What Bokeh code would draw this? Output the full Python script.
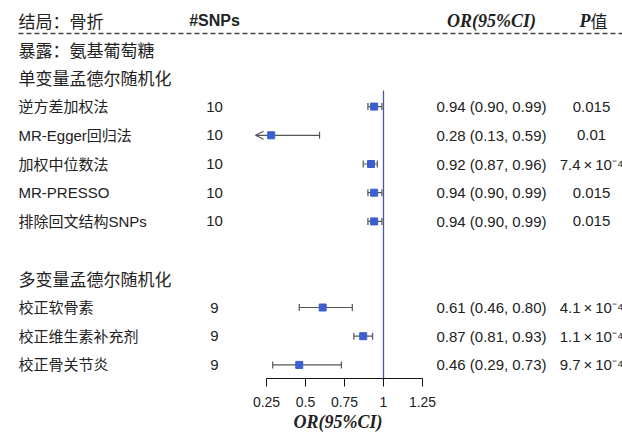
from bokeh.plotting import figure
from bokeh.models import (Range1d, LinearAxis, FixedTicker, ColumnDataSource,
                          Whisker, TeeHead, OpenHead, Title)
from bokeh.core.properties import value
from bokeh.embed import file_html
from bokeh.resources import INLINE

# ---------------- data ----------------
outcome_label = "结局：骨折"
exposure_label = "暴露：氨基葡萄糖"
section_labels = ["单变量孟德尔随机化", "多变量孟德尔随机化"]
methods = ["逆方差加权法", "MR-Egger回归法", "加权中位数法", "MR-PRESSO",
           "排除回文结构SNPs", "校正软骨素", "校正维生素补充剂", "校正骨关节炎"]
n_snps = [10, 10, 10, 10, 10, 9, 9, 9]
or_est = [0.94, 0.28, 0.92, 0.94, 0.94, 0.61, 0.87, 0.46]
ci_low = [0.90, 0.13, 0.87, 0.90, 0.90, 0.46, 0.81, 0.29]
ci_high = [0.99, 0.59, 0.96, 0.99, 0.99, 0.80, 0.93, 0.73]
p_values = ["0.015", "0.01", "7.4\u2009×\u200910⁻⁴", "0.015", "0.015",
            "4.1\u2009×\u200910⁻⁴", "1.1\u2009×\u200910⁻⁴", "9.7\u2009×\u200910⁻⁴"]
x_ticks = [0.25, 0.5, 0.75, 1, 1.25]
x_tick_labels = ["0.25", "0.5", "0.75", "1", "1.25"]
axis_title = "OR(95%CI)"
null_or = 1
clip_low = 0.18

# ---------------- layout ----------------
W, H = 622, 432
PX_PER = 156.0     # px per OR unit
ROW_H = 28.7       # px per row

def xpx(px):
    return (px - 227) / PX_PER

def ypx(py):
    return (py - 20) / ROW_H

header_row, exposure_row = 0, 1
section_rows = [2, 9]
method_rows = [3, 4, 5, 6, 7, 10, 11, 12]

SANS = value("'Liberation Sans', 'Noto Sans CJK SC', sans-serif")
CJK = value("'Noto Sans CJK SC', sans-serif")
SERIF = value("'Liberation Serif', serif")
TXT = "#222222"

p = figure(width=W, height=H, output_backend="svg", toolbar_location=None,
           x_range=Range1d(xpx(0), xpx(622)),
           y_range=Range1d(ypx(378), ypx(0)),
           x_axis_location=None, y_axis_location=None,
           min_border_left=0, min_border_right=0, min_border_top=0,
           min_border_bottom=54)
p.grid.visible = False
p.outline_line_color = None
p.background_fill_color = "white"
p.border_fill_color = "white"

# axis
ax = LinearAxis(ticker=FixedTicker(ticks=x_ticks), bounds=(x_ticks[0], x_ticks[-1]))
ax.major_label_overrides = {t: l for t, l in zip(x_ticks, x_tick_labels)}
ax.major_tick_in = 0
ax.major_tick_out = 8
ax.minor_tick_out = 0
ax.minor_tick_in = 0
ax.axis_line_color = "#111111"
ax.major_tick_line_color = "#111111"
ax.major_label_text_font = "Liberation Sans"
ax.major_label_text_font_size = "14px"
ax.major_label_text_color = TXT
ax.major_label_standoff = 10
p.add_layout(ax, "below")

p.add_layout(Title(text=axis_title, align="left", offset=293, standoff=0,
                   text_font="Liberation Serif", text_font_style="bold italic",
                   text_font_size="18px", text_color=TXT), "below")

# header
col_label, col_snp, col_or, col_p = xpx(18), xpx(214), xpx(491), xpx(591)
p.text(x=[col_label], y=[header_row], text=[outcome_label], text_font=CJK,
       text_font_size="17px", text_color=TXT, text_baseline="middle")
p.text(x=[col_snp], y=[header_row], text=["#SNPs"], text_font=value("Liberation Sans"),
       text_font_style="bold", text_font_size="16px", text_color=TXT,
       text_baseline="middle", text_align="center")
p.text(x=[col_or], y=[header_row], text=["OR(95%CI)"], text_font=SERIF,
       text_font_style="bold italic", text_font_size="18px", text_color=TXT,
       text_baseline="middle", text_align="center")
p.text(x=[xpx(590)], y=[header_row], text=["P"], text_font=SERIF,
       text_font_style="bold italic", text_font_size="18px", text_color=TXT,
       text_baseline="middle", text_align="right")
p.text(x=[xpx(590)], y=[header_row], text=["值"], text_font=CJK,
       text_font_size="17px", text_color=TXT, text_baseline="middle")
p.segment(x0=[xpx(18)], y0=[ypx(33)], x1=[xpx(640)], y1=[ypx(33)],
          line_color="#444444", line_width=1.5, line_dash="5 3")

p.text(x=[col_label], y=[exposure_row], text=[exposure_label], text_font=CJK,
       text_font_size="17px", text_color=TXT, text_baseline="middle")
p.text(x=[col_label] * 2, y=section_rows, text=section_labels, text_font=CJK,
       text_font_size="17px", text_color=TXT, text_baseline="middle")

src = ColumnDataSource(dict(
    y=method_rows, label=methods, snp=[str(n) for n in n_snps], est=or_est,
    ci=[f"{e:.2f} ({l:.2f}, {h:.2f})" for e, l, h in zip(or_est, ci_low, ci_high)],
    pv=p_values))

p.text(x=col_label, y="y", text="label", source=src, text_font=SANS,
       text_font_size="15px", text_color=TXT, text_baseline="middle")
p.text(x=col_snp, y="y", text="snp", source=src, text_font=value("Liberation Sans"),
       text_font_size="15px", text_color=TXT, text_baseline="middle", text_align="center")
p.text(x=col_or, y="y", text="ci", source=src, text_font=value("Liberation Sans"),
       text_font_size="15px", text_color=TXT, text_baseline="middle", text_align="center")
p.text(x=col_p, y="y", text="pv", source=src, text_font=value("Liberation Sans"),
       text_font_size="15px", text_color=TXT, text_baseline="middle", text_align="center")

# null line
p.segment(x0=[null_or], y0=[ypx(90)], x1=[null_or], y1=[ypx(378)],
          line_color="#4a56a8", line_width=1.3)

# whiskers
full_idx = [i for i, l in enumerate(ci_low) if l >= clip_low]
clip_idx = [i for i, l in enumerate(ci_low) if l < clip_low]

def sub(idx):
    return ColumnDataSource(dict(y=[method_rows[i] for i in idx],
                                 lo=[max(ci_low[i], clip_low) for i in idx],
                                 hi=[ci_high[i] for i in idx]))

p.add_layout(Whisker(source=sub(full_idx), base="y", lower="lo", upper="hi",
                     dimension="width", line_color="#555555", line_width=1.2,
                     lower_head=TeeHead(size=7, line_color="#555555", line_width=1.2),
                     upper_head=TeeHead(size=7, line_color="#555555", line_width=1.2)))
p.add_layout(Whisker(source=sub(clip_idx), base="y", lower="lo", upper="hi",
                     dimension="width", line_color="#555555", line_width=1.2,
                     lower_head=OpenHead(size=8, line_color="#555555", line_width=1.2),
                     upper_head=TeeHead(size=7, line_color="#555555", line_width=1.2)))

p.scatter(x="est", y="y", source=src, marker="square", size=7,
          fill_color="#3b5fcf", line_color="#3b5fcf")

open("out.html", "w").write(file_html(p, INLINE))
